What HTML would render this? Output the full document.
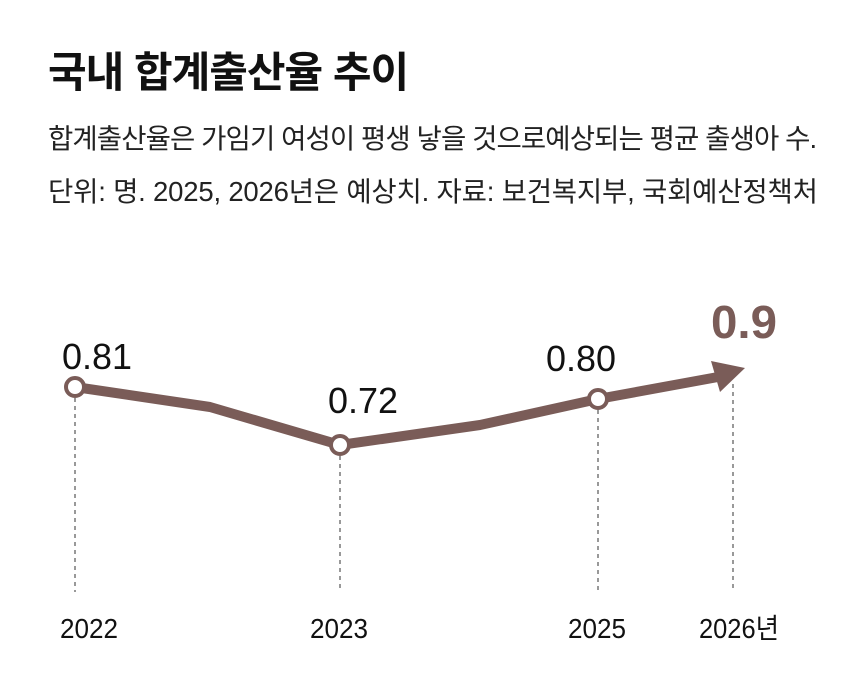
<!DOCTYPE html>
<html><head><meta charset="utf-8"><style>
body{margin:0;width:860px;height:685px;background:#fff;overflow:hidden;font-family:"Liberation Sans","Noto Sans CJK KR",sans-serif;color:#111}
.t{position:absolute;left:48px;top:48px;font-size:42px;line-height:50px;font-weight:bold;letter-spacing:-1px}
.s{position:absolute;left:48px;font-size:27.5px;line-height:34px;letter-spacing:-0.9px;color:#222}
</style></head><body>
<div class="t">국내 합계출산율 추이</div>
<div class="s" style="top:122px">합계출산율은 가임기 여성이 평생 낳을 것으로예상되는 평균 출생아 수.</div>
<div class="s" style="top:175px;letter-spacing:-0.2px">단위: 명. 2025, 2026년은 예상치. 자료: 보건복지부, 국회예산정책처</div>
<svg width="860" height="685" style="position:absolute;left:0;top:0" font-family="Liberation Sans, Noto Sans CJK KR, sans-serif">
<g stroke="#333" stroke-width="1" stroke-dasharray="4,4">
<line x1="75" y1="398" x2="75" y2="592"/><line x1="340" y1="456" x2="340" y2="592"/>
<line x1="598" y1="410" x2="598" y2="592"/><line x1="733" y1="384" x2="733" y2="592"/>
</g>
<polyline points="75,387 210,407 340,445 480,425 598,399 718,377" fill="none" stroke="#7a5c58" stroke-width="10" stroke-linejoin="round"/>
<polygon points="745,368 711,361 720,392" fill="#7a5c58"/>
<g fill="#fff" stroke="#7a5c58" stroke-width="4">
<circle cx="75" cy="387" r="9"/><circle cx="340" cy="445" r="9"/><circle cx="598" cy="399" r="9"/>
</g>
<g font-size="36" fill="#111">
<text x="62" y="369" textLength="70" lengthAdjust="spacingAndGlyphs">0.81</text>
<text x="328" y="413" textLength="70" lengthAdjust="spacingAndGlyphs">0.72</text>
<text x="546" y="371" textLength="70" lengthAdjust="spacingAndGlyphs">0.80</text>
</g>
<text x="711" y="338" font-size="46" font-weight="bold" fill="#7a5c58" textLength="66" lengthAdjust="spacingAndGlyphs">0.9</text>
<g font-size="28" fill="#111">
<text x="60" y="638" textLength="58" lengthAdjust="spacingAndGlyphs">2022</text>
<text x="310" y="638" textLength="58" lengthAdjust="spacingAndGlyphs">2023</text>
<text x="568" y="638" textLength="58" lengthAdjust="spacingAndGlyphs">2025</text>
<text x="699" y="638" textLength="80" lengthAdjust="spacingAndGlyphs">2026년</text>
</g>
</svg>
</body></html>
